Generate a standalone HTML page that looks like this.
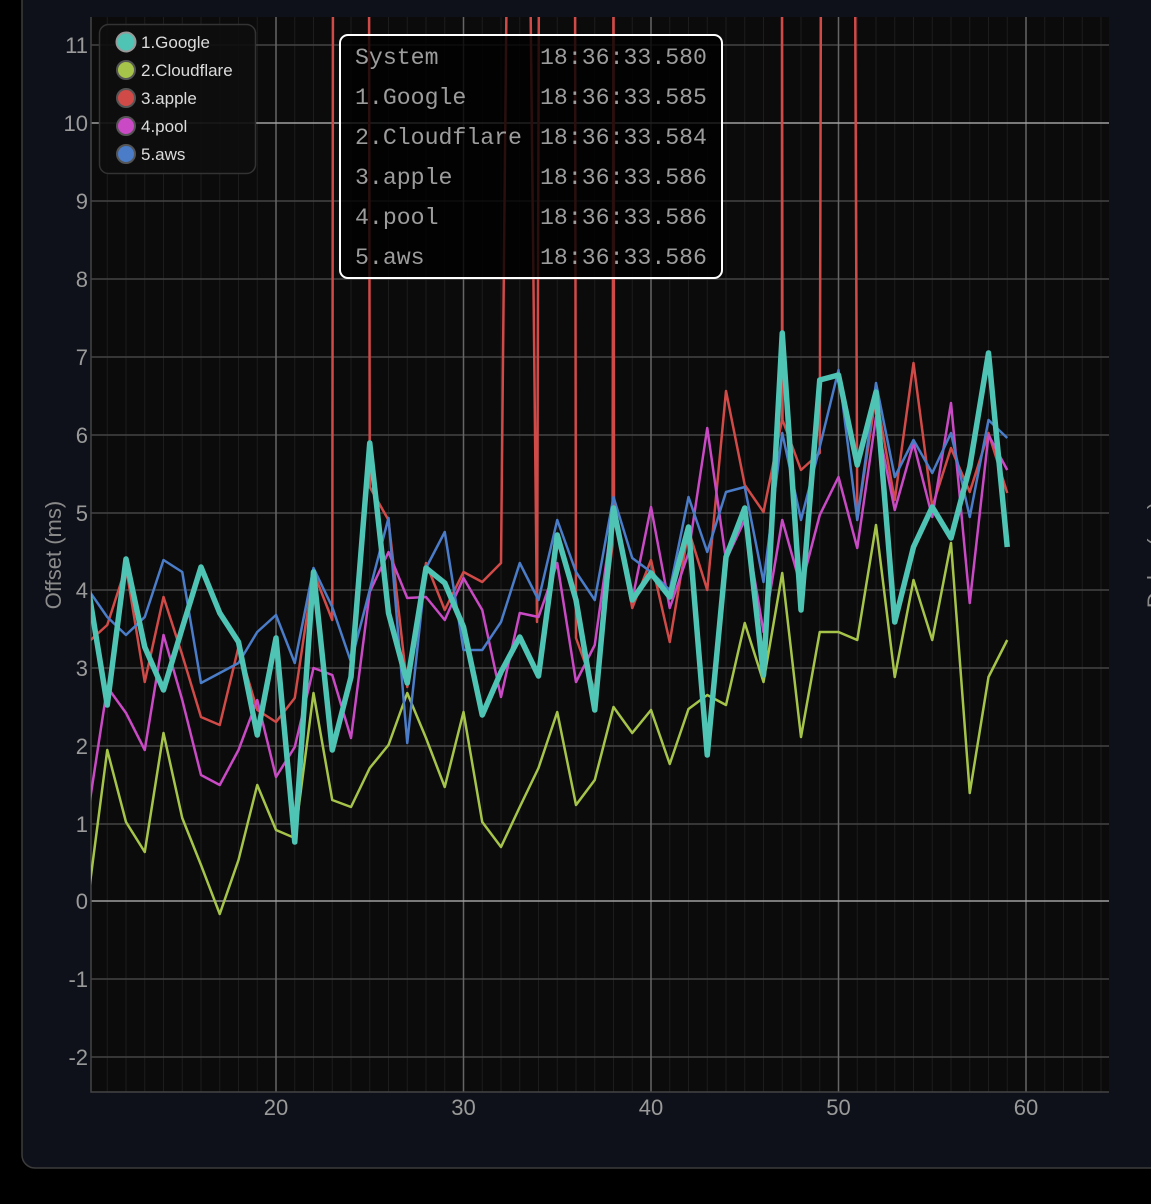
<!DOCTYPE html>
<html><head><meta charset="utf-8"><style>
html,body{margin:0;padding:0;background:#000;width:1151px;height:1204px;overflow:hidden}
svg{display:block}
</style></head><body>
<svg width="1151" height="1204" viewBox="0 0 1151 1204" xmlns="http://www.w3.org/2000/svg">
<rect x="0" y="0" width="1151" height="1204" fill="#000"/>
<rect x="22" y="-20" width="1160" height="1188" rx="13" fill="#0e1119" stroke="#3c3c3c" stroke-width="1.5"/>
<defs><clipPath id="c"><rect x="91" y="17" width="1018" height="1075"/></clipPath></defs>
<rect x="91" y="17" width="1018" height="1075" fill="#0b0b0b"/>
<g stroke="#1d1d1d" stroke-width="1">
<path d="M107.25 17V1092M126 17V1092M144.75 17V1092M163.5 17V1092M182.25 17V1092M201 17V1092M219.75 17V1092M238.5 17V1092M257.25 17V1092M294.75 17V1092M313.5 17V1092M332.25 17V1092M351 17V1092M369.75 17V1092M388.5 17V1092M407.25 17V1092M426 17V1092M444.75 17V1092M482.25 17V1092M501 17V1092M519.75 17V1092M538.5 17V1092M557.25 17V1092M576 17V1092M594.75 17V1092M613.5 17V1092M632.25 17V1092M669.75 17V1092M688.5 17V1092M707.25 17V1092M726 17V1092M744.75 17V1092M763.5 17V1092M782.25 17V1092M801 17V1092M819.75 17V1092M857.25 17V1092M876 17V1092M894.75 17V1092M913.5 17V1092M932.25 17V1092M951 17V1092M969.75 17V1092M988.5 17V1092M1007.25 17V1092M1044.75 17V1092M1063.5 17V1092M1082.25 17V1092M1101 17V1092"/>
</g>
<g stroke="#444" stroke-width="1.5">
<path d="M91 45H1109M91 201H1109M91 279H1109M91 357H1109M91 435H1109M91 513H1109M91 590H1109M91 668H1109M91 746H1109M91 824H1109M91 979H1109M91 1057H1109"/>
</g>
<g stroke="#666" stroke-width="1.5">
<path d="M276 17V1092M463.5 17V1092M651 17V1092M838.5 17V1092M1026 17V1092"/>
</g>
<path d="M91 123H1109M91 901H1109" stroke="#a0a0a0" stroke-width="1.5"/>
<path d="M91 17V1092H1109" stroke="#444" stroke-width="1.5" fill="none"/>
<g fill="#9a9a9a" font-family="Liberation Sans, sans-serif" font-size="22" text-anchor="end">
<text x="88" y="53">11</text><text x="88" y="131">10</text><text x="88" y="209">9</text><text x="88" y="287">8</text><text x="88" y="365">7</text><text x="88" y="443">6</text><text x="88" y="521">5</text><text x="88" y="598">4</text><text x="88" y="676">3</text><text x="88" y="754">2</text><text x="88" y="832">1</text><text x="88" y="909">0</text><text x="88" y="987">-1</text><text x="88" y="1065">-2</text>
</g>
<g fill="#9a9a9a" font-family="Liberation Sans, sans-serif" font-size="22" text-anchor="middle">
<text x="276" y="1115">20</text><text x="463.5" y="1115">30</text><text x="651" y="1115">40</text><text x="838.5" y="1115">50</text><text x="1026" y="1115">60</text>
</g>
<text transform="translate(61,555) rotate(-90)" fill="#8a8a8a" font-family="Liberation Sans, sans-serif" font-size="22" text-anchor="middle">Offset (ms)</text>
<text transform="translate(1163,555) rotate(-90)" fill="#8a8a8a" font-family="Liberation Sans, sans-serif" font-size="22" text-anchor="middle">Delay (ms)</text>
<g clip-path="url(#c)" fill="none" stroke-linejoin="round">
<polyline stroke="#a6c44a" stroke-width="2.5" points="88.5,895 107.25,750 126,822 144.75,852 163.5,733 182.25,818 201,865 219.75,914 238.5,860 257.25,785 276,830 294.75,838 313.5,693 332.25,800 351,807 369.75,768 388.5,745 407.25,693 426,738 444.75,787 463.5,712 482.25,822 501,847 519.75,807 538.5,768 557.25,712 576,805 594.75,780 613.5,707 632.25,733 651,710 669.75,764 688.5,709 707.25,695 726,705 744.75,623 763.5,682 782.25,573 801,737 819.75,632 838.5,632 857.25,640 876,525 894.75,677 913.5,580 932.25,640 951,543 969.75,793 988.5,677 1007.25,640"/>
<polyline stroke="#d04a48" stroke-width="2.5" points="88.5,642 107.25,625 126,567 144.75,682 163.5,597 182.25,655 201,717 219.75,725 238.5,647 257.25,710 276,722 294.75,698 313.5,572 332.25,620 333,-50 369,-50 369.75,487 388.5,520 407.25,687 426,563 444.75,610 463.5,572 482.25,582 501,563 507,-50 530,-50 537,622 539,-50 575,-50 576,638 594.75,690 612.5,545 613.5,-50 614,510 632.25,608 651,560 669.75,642 688.5,530 707.25,590 726,391 744.75,485 763.5,512 782,420 782,-50 782.5,420 801,470 819.75,453 821,-50 855,-50 857.25,520 876,395 894.75,500 913.5,363 932.25,507 951,448 969.75,492 988.5,433 1007.25,493"/>
<polyline stroke="#c94ac4" stroke-width="2.5" points="88.5,810 107.25,687 126,713 144.75,750 163.5,635 182.25,700 201,775 219.75,785 238.5,750 257.25,700 276,777 294.75,747 313.5,668 332.25,675 351,738 369.75,592 388.5,552 407.25,598 426,597 444.75,620 463.5,578 482.25,610 501,697 519.75,613 538.5,617 557.25,563 576,682 594.75,645 613.5,510 632.25,600 651,507 669.75,608 688.5,553 707.25,428 726,560 744.75,520 763.5,632 782.25,520 801,587 819.75,515 838.5,477 857.25,548 876,417 894.75,510 913.5,443 932.25,517 951,403 969.75,603 988.5,435 1007.25,470"/>
<polyline stroke="#4a7cc8" stroke-width="2.5" points="88.5,590 107.25,617 126,635 144.75,617 163.5,560 182.25,572 201,683 219.75,673 238.5,663 257.25,632 276,615 294.75,663 313.5,568 332.25,607 351,662 369.75,590 388.5,518 407.25,743 426,568 444.75,532 463.5,650 482.25,650 501,622 519.75,563 538.5,600 557.25,520 576,572 594.75,600 613.5,497 632.25,558 651,572 669.75,590 688.5,497 707.25,552 726,492 744.75,487 763.5,582 782.25,433 801,520 819.75,447 838.5,370 857.25,520 876,383 894.75,477 913.5,440 932.25,473 951,433 969.75,517 988.5,420 1007.25,438"/>
<polyline stroke="#4fc4b4" stroke-width="5.5" points="88.5,590 107.25,705 126,559 144.75,647 163.5,690 182.25,628 201,567 219.75,613 238.5,642 257.25,735 276,638 294.75,842 313.5,572 332.25,750 351,677 369.75,443 388.5,613 407.25,683 426,568 444.75,583 463.5,627 482.25,715 501,672 519.75,637 538.5,676 557.25,535 576,600 594.75,710 613.5,508 632.25,600 651,573 669.75,597 688.5,527 707.25,755 726,557 744.75,508 763.5,675 782.25,333 801,610 819.75,380 838.5,375 857.25,465 876,392 894.75,622 913.5,547 932.25,507 951,538 969.75,467 988.5,353 1007.25,547"/>
</g>
<rect x="99.5" y="24.5" width="156" height="149" rx="9" fill="#0e0e0e" fill-opacity="0.92" stroke="#333" stroke-width="1.5"/>
<g stroke="#555" stroke-width="2">
<circle cx="126" cy="42" r="9.5" fill="#4fc4b4" stroke="#999"/>
<circle cx="126" cy="70" r="9" fill="#a6c44a"/>
<circle cx="126" cy="98" r="9" fill="#d04a48"/>
<circle cx="126" cy="126" r="9" fill="#c94ac4"/>
<circle cx="126" cy="154" r="9" fill="#4a7cc8"/>
</g>
<g fill="#dcdcdc" font-family="Liberation Sans, sans-serif" font-size="17">
<text x="141" y="48">1.Google</text><text x="141" y="76">2.Cloudflare</text><text x="141" y="104">3.apple</text><text x="141" y="132">4.pool</text><text x="141" y="160">5.aws</text>
</g>
<rect x="340" y="35" width="382" height="243" rx="8" fill="#000" fill-opacity="0.8" stroke="#fff" stroke-width="2"/>
<g fill="#9c9c9c" font-family="Liberation Mono, DejaVu Sans Mono, monospace" font-size="23.2">
<text x="355" y="64">System</text><text x="540" y="64">18:36:33.580</text>
<text x="355" y="104">1.Google</text><text x="540" y="104">18:36:33.585</text>
<text x="355" y="144">2.Cloudflare</text><text x="540" y="144">18:36:33.584</text>
<text x="355" y="184">3.apple</text><text x="540" y="184">18:36:33.586</text>
<text x="355" y="224">4.pool</text><text x="540" y="224">18:36:33.586</text>
<text x="355" y="264">5.aws</text><text x="540" y="264">18:36:33.586</text>
</g>
</svg>
</body></html>
